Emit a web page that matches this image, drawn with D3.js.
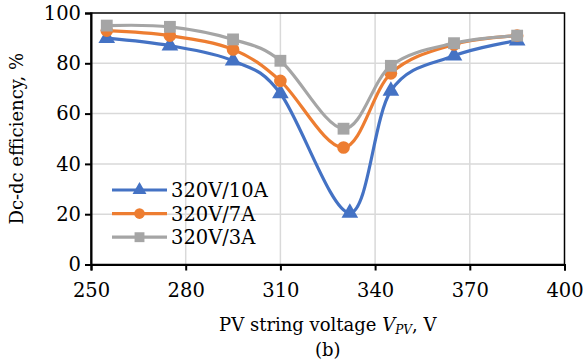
<!DOCTYPE html>
<html>
<head>
<meta charset="utf-8">
<script src="https://cdn.jsdelivr.net/npm/d3@7"></script>
<style>
  body { margin: 0; background: #fff; }
  text { font-family: "DejaVu Serif", serif; fill: #000; }
</style>
</head>
<body>
<div id="chart"></div>
<script>
/* data */
const voltages10 = [255, 275, 295, 310, 332, 345, 365, 385];
const voltages = [255, 275, 295, 310, 330, 345, 365, 385];
const eff10A = [90, 87, 81, 68, 20.5, 69, 83, 89];
const eff7A = [93, 91, 85.5, 73, 46.5, 76, 87.5, 91];
const eff3A = [95, 94.5, 89.5, 81, 54, 79, 88, 91];
const seriesNames = ["320V/10A", "320V/7A", "320V/3A"];
const xTicks = [250, 280, 310, 340, 370, 400];
const yTicks = [0, 20, 40, 60, 80, 100];

const W = 584, H = 364;
const m = { left: 91, right: 19.5, top: 13, bottom: 99.5 };

const svg = d3.select("#chart").append("svg")
  .attr("width", W).attr("height", H);

const x = d3.scaleLinear().domain([250, 400]).range([m.left, W - m.right]);
const y = d3.scaleLinear().domain([0, 100]).range([H - m.bottom, m.top]);

// grid
svg.append("g")
  .selectAll("line")
  .data(xTicks.slice(1, -1))
  .join("line")
  .attr("x1", d => x(d)).attr("x2", d => x(d))
  .attr("y1", y(0)).attr("y2", y(100))
  .attr("stroke", "#d9d9d9").attr("stroke-width", 1.5);
svg.append("g")
  .selectAll("line")
  .data(yTicks.slice(1, -1))
  .join("line")
  .attr("x1", x(250)).attr("x2", x(400))
  .attr("y1", d => y(d)).attr("y2", d => y(d))
  .attr("stroke", "#d9d9d9").attr("stroke-width", 1.5);

// frame
svg.append("rect")
  .attr("x", x(250)).attr("y", y(100))
  .attr("width", x(400) - x(250)).attr("height", y(0) - y(100))
  .attr("fill", "none").attr("stroke", "#000").attr("stroke-width", 1.5);

// axes
const xAxis = svg.append("g")
  .attr("transform", `translate(0,${y(0)})`)
  .call(d3.axisBottom(x).tickValues(xTicks).tickSizeOuter(0).tickSize(6).tickPadding(13));
const yAxis = svg.append("g")
  .attr("transform", `translate(${x(250)},0)`)
  .call(d3.axisLeft(y).tickValues(yTicks).tickSizeOuter(0).tickSize(6).tickPadding(4));
[xAxis, yAxis].forEach(a => {
  a.select(".domain").attr("stroke", "#000").attr("stroke-width", 2);
  a.selectAll(".tick line").attr("stroke", "#000").attr("stroke-width", 2);
  a.selectAll(".tick text").attr("font-size", 19.5).attr("font-family", "DejaVu Serif");
});

// series
const series = [
  { name: seriesNames[0], xs: voltages10, ys: eff10A, color: "#4472C4", shape: d3.symbolTriangle, size: 120 },
  { name: seriesNames[1], xs: voltages, ys: eff7A, color: "#ED7D31", shape: d3.symbolCircle, size: 125 },
  { name: seriesNames[2], xs: voltages, ys: eff3A, color: "#A5A5A5", shape: d3.symbolSquare, size: 140 }
];

const line = d3.line()
  .x(d => x(d[0])).y(d => y(d[1]))
  .curve(d3.curveCatmullRom.alpha(0));

series.forEach(s => {
  const pts = s.xs.map((v, i) => [v, s.ys[i]]);
  svg.append("path")
    .datum(pts)
    .attr("d", line)
    .attr("fill", "none")
    .attr("stroke", s.color)
    .attr("stroke-width", 3.2);
  svg.append("g")
    .selectAll("path")
    .data(pts)
    .join("path")
    .attr("d", d3.symbol().type(s.shape).size(s.size))
    .attr("transform", d => `translate(${x(d[0])},${y(d[1])})`)
    .attr("fill", s.color);
});

// legend
const legend = svg.append("g");
series.forEach((s, i) => {
  const ly = 190 + i * 23.6;
  legend.append("line")
    .attr("x1", 112).attr("x2", 167)
    .attr("y1", ly).attr("y2", ly)
    .attr("stroke", s.color).attr("stroke-width", 3.2);
  legend.append("path")
    .attr("d", d3.symbol().type(s.shape).size(s.size * 0.7))
    .attr("transform", `translate(139.5,${ly})`)
    .attr("fill", s.color);
  legend.append("text")
    .attr("x", 171).attr("y", ly + 7)
    .attr("font-size", 19.5)
    .text(s.name);
});

// axis titles
svg.append("text")
  .attr("transform", `translate(23,${(y(0) + y(100)) / 2}) rotate(-90)`)
  .attr("text-anchor", "middle")
  .attr("font-size", 18)
  .text("Dc-dc efficiency, %");

const xt = svg.append("text")
  .attr("x", (x(250) + x(400)) / 2).attr("y", 331)
  .attr("text-anchor", "middle")
  .attr("font-size", 18);
xt.append("tspan").text("PV string voltage ");
xt.append("tspan").attr("font-style", "italic").text("V");
xt.append("tspan").attr("font-style", "italic").attr("font-size", 12).attr("dy", 3).text("PV");
xt.append("tspan").attr("dy", -3).text(", V");

svg.append("text")
  .attr("x", (x(250) + x(400)) / 2).attr("y", 356)
  .attr("text-anchor", "middle")
  .attr("font-size", 18)
  .text("(b)");
</script>
</body>
</html>
